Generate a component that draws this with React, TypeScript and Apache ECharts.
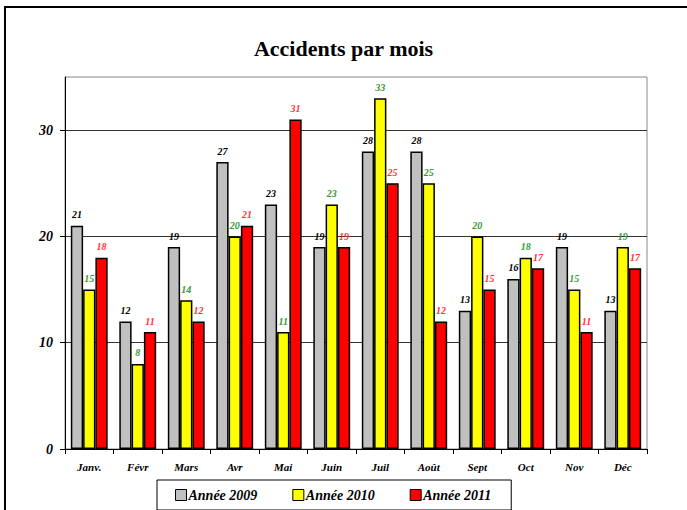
import React, { useEffect, useRef } from "react";
import * as echarts from "echarts";

const months = ["Janv.", "Févr", "Mars", "Avr", "Mai", "Juin", "Juil", "Août", "Sept", "Oct", "Nov", "Déc"];
const seriesNames = ["Année 2009", "Année 2010", "Année 2011"];
const values2009 = [21, 12, 19, 27, 23, 19, 28, 28, 13, 16, 19, 13];
const values2010 = [15, 8, 14, 20, 11, 23, 33, 25, 20, 18, 15, 19];
const values2011 = [18, 11, 12, 21, 31, 19, 25, 12, 15, 17, 11, 17];
const yTicks = [0, 10, 20, 30];

const FONT = "'Liberation Serif', 'Times New Roman', serif";
const barColors = ["#c0c0c0", "#ffff00", "#ff0000"];
const labelColors = ["#000000", "#339933", "#ff3333"];

export default function App() {
  const ref = useRef<HTMLDivElement>(null);
  useEffect(() => {
    if (!ref.current) return;
    const chart = echarts.init(ref.current, null, { renderer: "svg" });
    const data = [values2009, values2010, values2011];
    chart.setOption({
      animation: false,
      backgroundColor: "#ffffff",
      title: {
        text: "Accidents par mois",
        left: "center",
        top: 32,
        textStyle: { fontFamily: FONT, fontSize: 22, fontWeight: "bold", color: "#000" },
      },
      graphic: [
        {
          type: "rect",
          shape: { x: 5, y: 7, width: 700, height: 520 },
          style: { fill: "none", stroke: "#000", lineWidth: 2 },
          silent: true,
          z: 100,
        },
      ],
      legend: {
        left: 157,
        top: 480,
        orient: "horizontal",
        borderColor: "#000",
        borderWidth: 1,
        padding: [8, 20, 8, 18],
        itemGap: 35,
        itemWidth: 11,
        itemHeight: 11,
        icon: "rect",
        itemStyle: { borderColor: "#000", borderWidth: 1 },
        textStyle: { fontFamily: FONT, fontSize: 14, fontWeight: "bold", fontStyle: "italic", color: "#000", padding: [0, 0, 0, -3] },
        data: seriesNames,
      },
      grid: {
        left: 65,
        right: 40,
        top: 77,
        bottom: 61,
        show: true,
        borderColor: "#888",
        borderWidth: 1,
        backgroundColor: "transparent",
      },
      xAxis: {
        type: "category",
        data: months,
        axisLine: { lineStyle: { color: "#000", width: 1 } },
        axisTick: { show: true, length: 5, lineStyle: { color: "#000" } },
        axisLabel: {
          fontFamily: FONT,
          fontSize: 11,
          fontWeight: "bold",
          fontStyle: "italic",
          color: "#000",
          margin: 12,
        },
      },
      yAxis: {
        type: "value",
        min: 0,
        max: 35,
        interval: 10,
        axisLine: { show: true, lineStyle: { color: "#000", width: 1 } },
        axisTick: { show: true, length: 5, lineStyle: { color: "#000" }, customValues: yTicks },
        axisLabel: {
          customValues: yTicks,
          fontFamily: FONT,
          fontSize: 14,
          fontWeight: "bold",
          fontStyle: "italic",
          color: "#000",
          margin: 12,
          formatter: (v: number) => (v === 35 ? "" : String(v)),
        },
        splitLine: { show: true, lineStyle: { color: "#333", width: 1 } },
      },
      series: data.map((vals, i) => ({
        name: seriesNames[i],
        type: "bar",
        data: vals,
        barGap: "0%",
        barCategoryGap: "24%",
        itemStyle: { color: barColors[i], borderColor: "#000", borderWidth: 1.5 },
        label: {
          show: true,
          position: "top",
          distance: 6,
          fontFamily: FONT,
          fontSize: 10,
          fontWeight: "bold",
          fontStyle: "italic",
          color: labelColors[i],
        },
      })),
    });
    return () => chart.dispose();
  }, []);
  return (
    <div
      ref={ref}
      style={{ position: "fixed", left: 0, top: 0, width: 687, height: 510 }}
    />
  );
}
